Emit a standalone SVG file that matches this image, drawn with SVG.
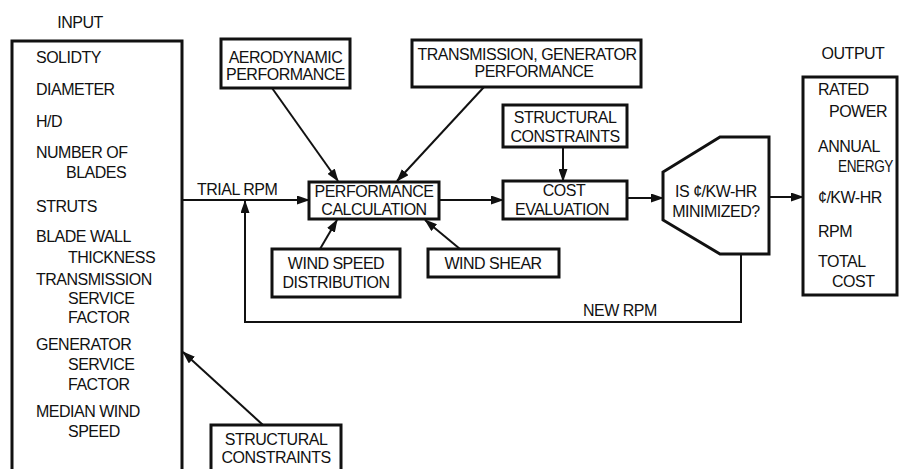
<svg xmlns="http://www.w3.org/2000/svg" width="901" height="469" viewBox="0 0 901 469">
<style>
text{font-family:"Liberation Sans",Arial,sans-serif;font-size:16px;letter-spacing:-0.5px;fill:#111}
.m{text-anchor:middle}
.box{fill:none;stroke:#111;stroke-width:3}
.c{fill:none;stroke:#111;stroke-width:2}
</style>
<defs>
<marker id="ah" markerUnits="userSpaceOnUse" markerWidth="13" markerHeight="9" refX="12" refY="4.5" orient="auto">
<path d="M0,0 L13,4.5 L0,9 z" fill="#111"/>
</marker>
</defs>
<rect width="901" height="469" fill="#fff"/>

<g id="input">
<text x="80" y="28" class="m">INPUT</text>
<path class="box" d="M12,472 V41 H182 V472"/>
<text x="36" y="63">SOLIDTY</text>
<text x="36" y="95">DIAMETER</text>
<text x="36" y="127">H/D</text>
<text x="36" y="158">NUMBER OF</text>
<text x="66" y="178">BLADES</text>
<text x="36" y="212">STRUTS</text>
<text x="36" y="242">BLADE WALL</text>
<text x="68" y="263">THICKNESS</text>
<text x="36" y="285">TRANSMISSION</text>
<text x="68" y="304">SERVICE</text>
<text x="68" y="323">FACTOR</text>
<text x="36" y="350">GENERATOR</text>
<text x="68" y="370">SERVICE</text>
<text x="68" y="390">FACTOR</text>
<text x="36" y="417">MEDIAN WIND</text>
<text x="68" y="437">SPEED</text>
</g>

<g id="aero">
<rect class="box" x="221" y="39" width="129" height="49"/>
<text x="285.5" y="63" class="m">AERODYNAMIC</text>
<text x="285.5" y="80" class="m">PERFORMANCE</text>
</g>

<g id="transgen">
<rect class="box" x="412" y="40" width="229" height="47"/>
<text x="527" y="60" class="m">TRANSMISSION, GENERATOR</text>
<text x="534" y="77" class="m">PERFORMANCE</text>
</g>

<g id="struct-top">
<rect class="box" x="503" y="105" width="124" height="42"/>
<text x="565" y="123" class="m">STRUCTURAL</text>
<text x="565" y="142" class="m">CONSTRAINTS</text>
</g>

<g id="perf">
<rect class="box" x="309" y="182" width="130" height="37"/>
<text x="374" y="197" class="m">PERFORMANCE</text>
<text x="374" y="215" class="m">CALCULATION</text>
</g>

<g id="cost">
<rect class="box" x="503" y="181" width="124" height="38"/>
<text x="564" y="196" class="m">COST</text>
<text x="562" y="215" class="m">EVALUATION</text>
</g>

<g id="windspeed">
<rect class="box" x="272" y="249" width="128" height="48"/>
<text x="336" y="269" class="m">WIND SPEED</text>
<text x="336" y="288" class="m">DISTRIBUTION</text>
</g>

<g id="windshear">
<rect class="box" x="428" y="249" width="131" height="28"/>
<text x="493" y="269" class="m">WIND SHEAR</text>
</g>

<g id="decision">
<polygon class="box" points="720,137 769,137 769,254 720,254 663,220 663,172"/>
<text x="716" y="197" class="m">IS ¢/KW-HR</text>
<text x="716" y="217" class="m">MINIMIZED?</text>
</g>

<g id="output">
<text x="853" y="59" class="m">OUTPUT</text>
<rect class="box" x="803" y="77" width="94" height="218"/>
<text x="818" y="95">RATED</text>
<text x="829" y="117">POWER</text>
<text x="818" y="152">ANNUAL</text>
<text x="838" y="172" textLength="55" lengthAdjust="spacingAndGlyphs">ENERGY</text>
<text x="818" y="203">¢/KW-HR</text>
<text x="818" y="237">RPM</text>
<text x="818" y="267">TOTAL</text>
<text x="832" y="287">COST</text>
</g>

<g id="struct-bottom">
<rect class="box" x="211" y="425" width="130" height="50"/>
<text x="276" y="445" class="m">STRUCTURAL</text>
<text x="276" y="463" class="m">CONSTRAINTS</text>
</g>

<g id="connectors">
<line class="c" x1="182" y1="200" x2="309" y2="200" marker-end="url(#ah)"/>
<text x="197" y="195">TRIAL RPM</text>
<line class="c" x1="272" y1="88" x2="338" y2="181" marker-end="url(#ah)"/>
<line class="c" x1="484" y1="87" x2="397" y2="181" marker-end="url(#ah)"/>
<line class="c" x1="320" y1="249" x2="337" y2="220" marker-end="url(#ah)"/>
<line class="c" x1="460" y1="249" x2="425" y2="220" marker-end="url(#ah)"/>
<line class="c" x1="439" y1="200" x2="503" y2="200" marker-end="url(#ah)"/>
<line class="c" x1="563" y1="147" x2="563" y2="181" marker-end="url(#ah)"/>
<line class="c" x1="627" y1="198" x2="663" y2="198" marker-end="url(#ah)"/>
<line class="c" x1="769" y1="197" x2="803" y2="197" marker-end="url(#ah)"/>
<path class="c" d="M741,254 V322 H245 V201" marker-end="url(#ah)"/>
<text x="583" y="316">NEW RPM</text>
<line class="c" x1="263" y1="425" x2="183" y2="352" marker-end="url(#ah)"/>
</g>
</svg>
